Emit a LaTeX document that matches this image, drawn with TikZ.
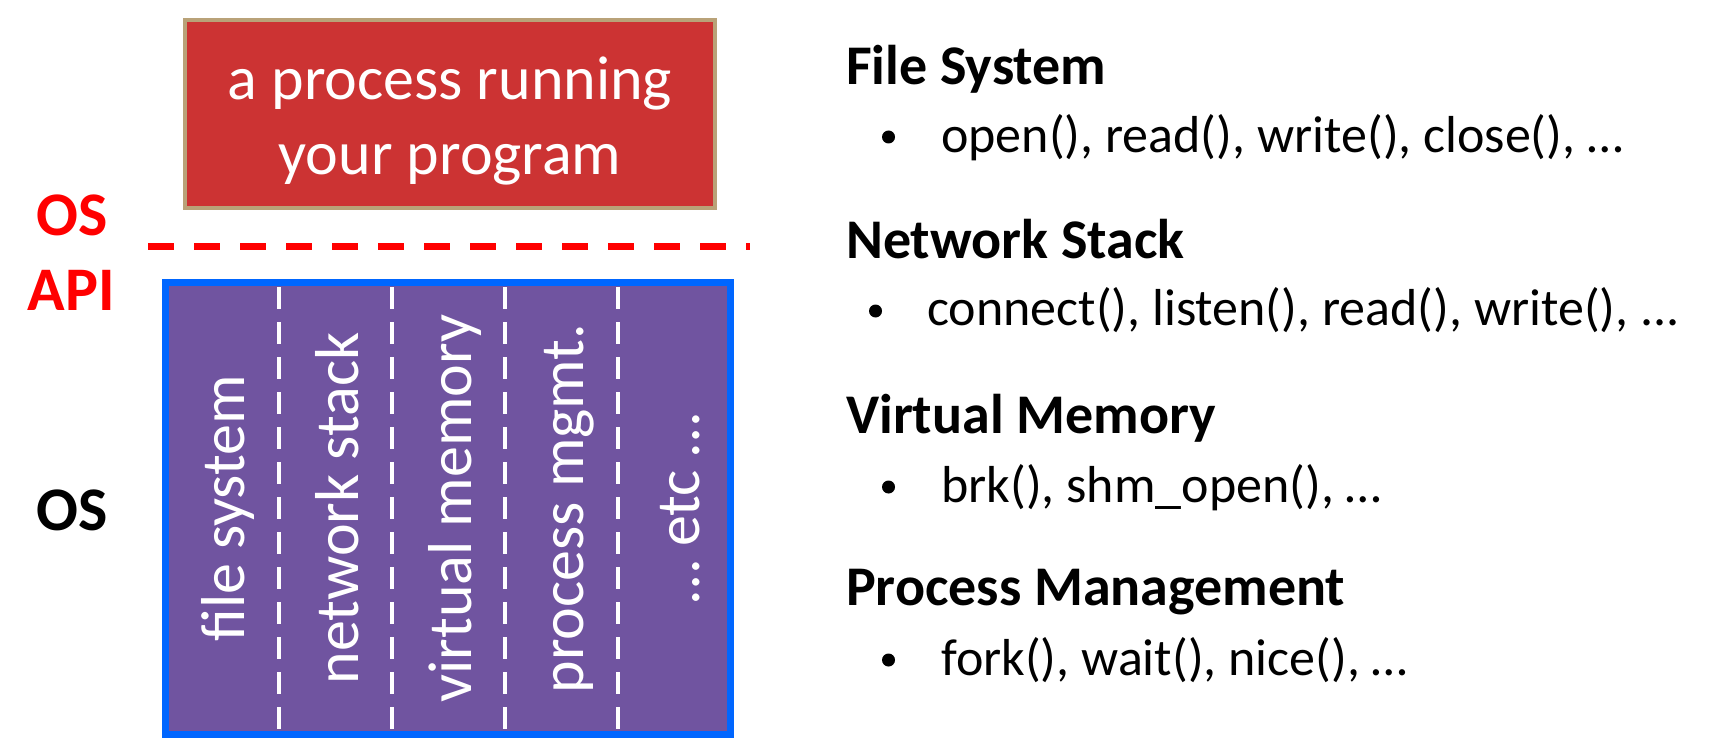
\documentclass[tikz,border=0pt]{standalone}
\usepackage{fontspec}
\setmainfont{Carlito}
\definecolor{boxred}{RGB}{204,51,51}
\definecolor{boxtan}{RGB}{185,162,120}
\definecolor{osblue}{RGB}{0,102,255}
\definecolor{ospurple}{RGB}{112,84,160}
\definecolor{apired}{RGB}{255,0,0}
\tikzset{
  big/.style={font=\fontsize{62}{75}\selectfont},
  lbl/.style={font=\fontsize{62}{75}\selectfont\bfseries, anchor=base},
  vlabel/.style={big, text=white, rotate=90, anchor=base, inner sep=0pt},
  head/.style={font=\fontsize{56}{66}\selectfont\bfseries, anchor=base west, inner sep=0pt},
  item/.style={font=\fontsize{52}{62}\selectfont, anchor=base west, inner sep=0pt},
  dot/.style={circle, fill=black, minimum size=13pt, inner sep=0pt},
  sep/.style={white, line width=3.5pt, dash pattern=on 22pt off 13pt},
}
\begin{document}
\begin{tikzpicture}[x=1pt,y=-1pt]
\useasboundingbox (0,0) rectangle (1709,749);
% process box
\node[draw=boxtan, line width=4pt, fill=boxred, minimum width=530pt, minimum height=188pt, inner sep=0pt] (proc) at (450,114) {};
\node[big, text=white, anchor=base, inner sep=0pt] (p1) at (450,100) {a process running};
\node[big, text=white, anchor=base, inner sep=0pt] (p2) at (450,175) {your program};
% labels
\node[lbl, text=apired] (osapi1) at (72,235) {OS};
\node[lbl, text=apired] (osapi2) at (71,310) {API};
\node[lbl, text=black] (oslbl) at (72,530) {OS};
% api line
\coordinate (apiL) at (148,246);
\coordinate (apiR) at (750,246);
\draw[apired, line width=7pt, dash pattern=on 26pt off 20pt] (apiL) -- (apiR);
% OS box
\node[draw=osblue, line width=7pt, fill=ospurple, minimum width=565pt, minimum height=452pt, inner sep=0pt] (os) at (448,508.5) {};
\foreach \x/\n in {279/a,392/b,505/c,618/d}{
  \coordinate (t\n) at (\x,287);
  \coordinate (b\n) at (\x,731);
  \draw[sep] (t\n) -- (b\n);
}
\node[vlabel] (fs) at (244,508.5) {file system};
\node[vlabel] (ns) at (358,508.5) {network stack};
\node[vlabel] (vm) at (471,508.5) {virtual memory};
\node[vlabel] (pm) at (583,508.5) {process mgmt.};
\node[vlabel] (etc) at (699,508.5) {… etc …};
% right side
\node[head] (h1) at (846,85) {File System};
\node[dot] (b1) at (888.5,137) {};
\node[item] (i1) at (941,153) {open(), read(), write(), close(), …};
\node[head] (h2) at (846,258) {Network Stack};
\node[dot] (b2) at (875.5,311) {};
\node[item] (i2) at (927,325) {connect(), listen(), read(), write(), ...};
\node[head] (h3) at (846,433) {Virtual Memory};
\node[dot] (b3) at (888.5,487) {};
\node[item] (i3) at (941,502) {brk(), shm\_open(), …};
\node[head] (h4) at (846,605) {Process Management};
\node[dot] (b4) at (888.5,660) {};
\node[item] (i4) at (941,675) {fork(), wait(), nice(), …};
\end{tikzpicture}
\end{document}
